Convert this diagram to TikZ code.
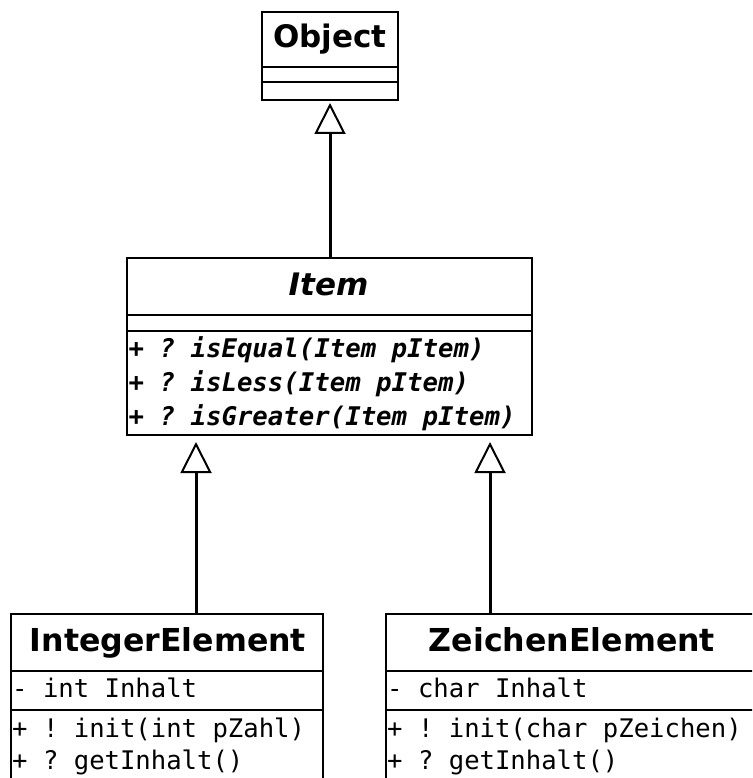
\documentclass[tikz,border=0pt]{standalone}
\usepackage{fontspec}
\setmainfont{DejaVu Sans}
\setmonofont{DejaVu Sans Mono}
\usetikzlibrary{arrows.meta}
\tikzset{
  classbox/.style={draw, line width=2pt, fill=white, rectangle, anchor=north west, inner sep=0pt, outer sep=0pt},
  ctitle/.style={font=\bfseries\fontsize{31.6}{36}\selectfont, anchor=base, inner sep=0pt},
  abstitle/.style={ctitle, font=\bfseries\itshape\fontsize{31}{36}\selectfont},
  member/.style={font=\ttfamily\fontsize{25.6}{30}\selectfont, anchor=base west, inner sep=0pt},
  absmember/.style={member, font=\ttfamily\bfseries\itshape\fontsize{25.7}{30}\selectfont},
  inherit/.style={line width=3pt, -{Triangle[open, length=31pt, width=31pt, line width=2pt]}},
  compsep/.style={line width=2pt}
}
\begin{document}
\begin{tikzpicture}[x=1pt, y=-1pt]
\useasboundingbox (0,0) rectangle (752,778);
\clip (0,0) rectangle (752,778);

% class boxes
\node[classbox, minimum width=136pt, minimum height=88pt] (obj) at (262,12) {};
\node[classbox, minimum width=405pt, minimum height=177pt] (item) at (127,258) {};
\node[classbox, minimum width=312pt, minimum height=200pt] (intel) at (11,614) {};
\node[classbox, minimum width=372pt, minimum height=200pt] (zel) at (386,614) {};

% compartment separators
\draw[compsep] (obj.west |- 0,67) -- (obj.east |- 0,67);
\draw[compsep] (obj.west |- 0,82) -- (obj.east |- 0,82);
\draw[compsep] (item.west |- 0,315) -- (item.east |- 0,315);
\draw[compsep] (item.west |- 0,331) -- (item.east |- 0,331);
\draw[compsep] (intel.west |- 0,671) -- (intel.east |- 0,671);
\draw[compsep] (intel.west |- 0,710) -- (intel.east |- 0,710);
\draw[compsep] (zel.west |- 0,671) -- (zel.east |- 0,671);
\draw[compsep] (zel.west |- 0,710) -- (zel.east |- 0,710);

% class names
\node[ctitle, font=\bfseries\fontsize{31}{36}\selectfont] (objname) at (330,48) {Object};
\node[abstitle] (itemname) at (328.5,295) {Item};
\node[ctitle] (intname) at (168,651) {IntegerElement};
\node[ctitle] (zname) at (572,651) {ZeichenElement};

% members of Item
\node[absmember] (m1) at (128.5,357) {+ ? isEqual(Item pItem)};
\node[absmember] (m2) at (128.5,391) {+ ? isLess(Item pItem)};
\node[absmember] (m3) at (128.5,425) {+ ? isGreater(Item pItem)};

% members of IntegerElement
\node[member] (ia1) at (12,697) {- int Inhalt};
\node[member] (im1) at (12,737) {+ ! init(int pZahl)};
\node[member] (im2) at (12,769) {+ ? getInhalt()};

% members of ZeichenElement
\node[member] (za1) at (387,697) {- char Inhalt};
\node[member] (zm1) at (387,737) {+ ! init(char pZeichen)};
\node[member] (zm2) at (387,769) {+ ? getInhalt()};

% generalizations
\coordinate (ia) at ([xshift=185pt]intel.north west);
\coordinate (za) at ([xshift=104pt]zel.north west);
\draw[inherit, shorten >=3pt] (item.north -| obj.south) -- (obj.south);
\draw[inherit, shorten >=7pt] (ia) -- (ia |- item.south);
\draw[inherit, shorten >=7pt] (za) -- (za |- item.south);
\end{tikzpicture}
\end{document}
